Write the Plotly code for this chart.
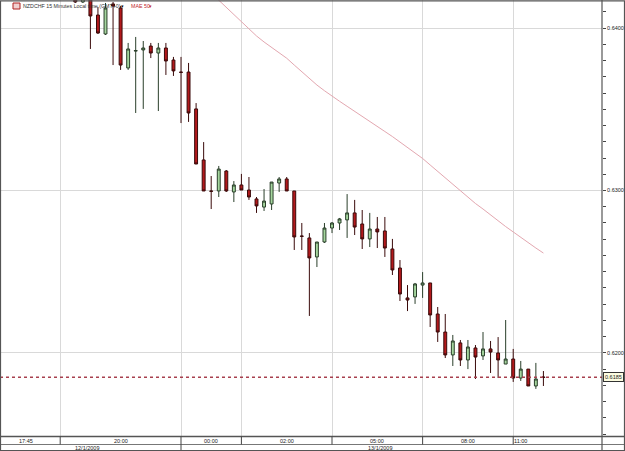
import pandas as pd
import plotly.graph_objects as go

# ---------------- data ----------------
start_time = "2009-01-12 20:30"  # first visible candle, 15-minute bars
opens = [0.64222, 0.64160, 0.64203, 0.64080, 0.63963, 0.64148, 0.64123, 0.63754, 0.63858, 0.63865,
         0.63889, 0.63846, 0.63877, 0.63803, 0.63729, 0.63729, 0.63502, 0.63188, 0.62997, 0.62997,
         0.63120, 0.62991, 0.63034, 0.63003, 0.62948, 0.62898, 0.62917, 0.63046, 0.63071, 0.62997,
         0.62720, 0.62708, 0.62591, 0.62683, 0.62769, 0.62800, 0.62819, 0.62862, 0.62794, 0.62702,
         0.62763, 0.62751, 0.62640, 0.62523, 0.62339, 0.62345, 0.62418, 0.62431, 0.62240, 0.62129,
         0.61988, 0.62062, 0.61957, 0.62031, 0.61982, 0.62025, 0.62000, 0.61932, 0.61963, 0.61846,
         0.61901, 0.61797, 0.61852]
highs = [0.64246, 0.64234, 0.64222, 0.64129, 0.64154, 0.64160, 0.64135, 0.63908, 0.63945, 0.63920,
         0.63908, 0.63908, 0.63908, 0.63822, 0.63822, 0.63785, 0.63538, 0.63298, 0.63089, 0.63151,
         0.63126, 0.63058, 0.63102, 0.63083, 0.62960, 0.63009, 0.63052, 0.63083, 0.63083, 0.62997,
         0.62800, 0.62738, 0.62683, 0.62800, 0.62806, 0.62831, 0.62978, 0.62942, 0.62880, 0.62862,
         0.62837, 0.62837, 0.62702, 0.62572, 0.62418, 0.62431, 0.62498, 0.62431, 0.62283, 0.62240,
         0.62111, 0.62080, 0.62080, 0.62049, 0.62129, 0.62074, 0.62098, 0.62203, 0.62025, 0.61951,
         0.61901, 0.61939, 0.61889]
lows = [0.64154, 0.64154, 0.63871, 0.63963, 0.63957, 0.63772, 0.63742, 0.63742, 0.63477, 0.63502,
        0.63815, 0.63489, 0.63711, 0.63705, 0.63415, 0.63422, 0.63163, 0.62997, 0.62886, 0.62960,
        0.62991, 0.62929, 0.63003, 0.62942, 0.62862, 0.62874, 0.62880, 0.62991, 0.62997, 0.62634,
        0.62634, 0.62228, 0.62529, 0.62677, 0.62738, 0.62757, 0.62708, 0.62726, 0.62640, 0.62652,
        0.62646, 0.62591, 0.62480, 0.62320, 0.62258, 0.62302, 0.62339, 0.62160, 0.62068, 0.61969,
        0.61920, 0.61920, 0.61901, 0.61840, 0.61957, 0.61877, 0.61846, 0.61932, 0.61822, 0.61828,
        0.61797, 0.61779, 0.61797]
closes = [0.64160, 0.64209, 0.64074, 0.63969, 0.64123, 0.64135, 0.63772, 0.63871, 0.63861, 0.63877,
          0.63846, 0.63877, 0.63797, 0.63736, 0.63727, 0.63477, 0.63163, 0.62997, 0.62995, 0.63132,
          0.62997, 0.63034, 0.63003, 0.62960, 0.62905, 0.62935, 0.63052, 0.63071, 0.62997, 0.62714,
          0.62718, 0.62585, 0.62683, 0.62769, 0.62800, 0.62825, 0.62862, 0.62775, 0.62702, 0.62763,
          0.62745, 0.62646, 0.62511, 0.62363, 0.62326, 0.62425, 0.62431, 0.62234, 0.62129, 0.61988,
          0.62074, 0.61957, 0.62037, 0.61975, 0.62025, 0.62006, 0.61957, 0.61963, 0.61846, 0.61901,
          0.61797, 0.61840, 0.61850]

ma_start = "2009-01-13 01:00"
ma50 = [0.64215, 0.64170, 0.64126, 0.64083, 0.64037, 0.63994, 0.63951, 0.63914, 0.63880, 0.63846,
        0.63814, 0.63772, 0.63729, 0.63689, 0.63649, 0.63614, 0.63580, 0.63549, 0.63518, 0.63488,
        0.63458, 0.63428, 0.63397, 0.63363, 0.63332, 0.63298, 0.63265, 0.63231, 0.63197, 0.63157,
        0.63117, 0.63077, 0.63034, 0.62997, 0.62957, 0.62920, 0.62886, 0.62849, 0.62812, 0.62778,
        0.62745, 0.62711, 0.62680, 0.62646, 0.62615]

last_price = 0.6185
price_ticks = [0.62, 0.63, 0.64]
price_labels = ["0.6200", "0.6300", "0.6400"]
grid_times = ["2009-01-12 20:00", "2009-01-13 00:00", "2009-01-13 02:00",
              "2009-01-13 05:00", "2009-01-13 08:00", "2009-01-13 11:00"]
time_labels = ["17:45", "20:00", "00:00", "02:00", "05:00", "08:00", "11:00"]
time_label_pos = ["2009-01-12 18:52:30", "2009-01-12 22:00", "2009-01-13 01:00", "2009-01-13 03:30",
                  "2009-01-13 06:30", "2009-01-13 09:30", "2009-01-13 11:15"]
date_labels = ["12/1/2009", "13/1/2009"]
date_label_pos = ["2009-01-12 20:52:30", "2009-01-13 06:35"]
x_range = ["2009-01-12 18:00:24", "2009-01-13 13:56:24"]
y_range = [0.614861, 0.641723]

# ---------------- figure ----------------
times = pd.date_range(start_time, periods=len(opens), freq="15min")
ma_times = pd.date_range(ma_start, periods=len(ma50), freq="15min")

XD = 602 / 625          # right end of plot area
YB = (451 - 436.5) / 451  # bottom of plot area
YM = (451 - 444.5) / 451  # middle line of time strip
FONT = "Liberation Sans, Arial, sans-serif"

fig = go.Figure()
fig.add_trace(go.Scatter(x=ma_times, y=ma50, mode="lines",
                         line=dict(color="#e3a7b0", width=1), hoverinfo="skip"))
fig.add_trace(go.Candlestick(
    x=times, open=opens, high=highs, low=lows, close=closes,
    increasing=dict(line=dict(color="#2a3f2a", width=1), fillcolor="#a5d69e"),
    decreasing=dict(line=dict(color="#3a0a0a", width=1), fillcolor="#b3191c"),
    whiskerwidth=0))

shapes = []
# last price dotted line
shapes.append(dict(type="line", xref="paper", yref="y", x0=0, x1=XD, y0=last_price, y1=last_price,
                   line=dict(color="#a8404e", width=1.5, dash="dot")))
# bottom time strip
shapes.append(dict(type="line", xref="paper", yref="paper", x0=0, x1=1, y0=YB, y1=YB,
                   line=dict(color="#555555", width=1.5)))
shapes.append(dict(type="line", xref="paper", yref="paper", x0=0, x1=1, y0=YM, y1=YM,
                   line=dict(color="#777777", width=1)))
for t in grid_times:
    y0 = 0 if t == "2009-01-13 00:00" else YM
    shapes.append(dict(type="line", xref="x", yref="paper", x0=t, x1=t, y0=y0, y1=YB,
                       line=dict(color="#444444", width=1)))
shapes.append(dict(type="line", xref="paper", yref="paper", x0=XD, x1=XD, y0=0, y1=1,
                   line=dict(color="#555555", width=1.2)))
# outer frame
shapes.append(dict(type="rect", xref="paper", yref="paper", x0=0.0008, x1=0.9992, y0=0.001, y1=0.998,
                   line=dict(color="#555555", width=1.2)))
# header icon
shapes.append(dict(type="rect", xref="paper", yref="paper", x0=13 / 625, x1=20 / 625,
                   y0=1 - 9 / 451, y1=1 - 3 / 451, line=dict(color="#b02020", width=1),
                   fillcolor="#f0d0d0"))

annotations = []
for txt, pos in zip(time_labels, time_label_pos):
    annotations.append(dict(x=pos, xref="x", y=(451 - 440.5) / 451, yref="paper", text=txt,
                            showarrow=False, font=dict(size=5.5, color="#222222", family=FONT),
                            xanchor="center", yanchor="middle"))
for txt, pos in zip(date_labels, date_label_pos):
    annotations.append(dict(x=pos, xref="x", y=(451 - 447.8) / 451, yref="paper", text=txt,
                            showarrow=False, font=dict(size=5.5, color="#222222", family=FONT),
                            xanchor="center", yanchor="middle"))
annotations.append(dict(x=XD + 1.5 / 625, xref="paper", y=last_price, yref="y", text="0.6185",
                        showarrow=False, xanchor="left", yanchor="middle",
                        font=dict(size=5.5, color="#222222", family=FONT),
                        bgcolor="#fcfce0", bordercolor="#333333", borderwidth=1, borderpad=1))
header_font = dict(size=5.3, color="#333333", family=FONT)
annotations.append(dict(x=21 / 625, xref="paper", y=1 - 6 / 451, yref="paper",
                        text="NZDCHF 15 Minutes Local time (GMT+0)",
                        showarrow=False, xanchor="left", yanchor="middle", font=header_font))
annotations.append(dict(x=122 / 625, xref="paper", y=1 - 6 / 451, yref="paper", text="▾",
                        showarrow=False, xanchor="center", yanchor="middle",
                        font=dict(size=5.3, color="#000000", family=FONT)))
annotations.append(dict(x=129 / 625, xref="paper", y=1 - 6 / 451, yref="paper",
                        text="MAE 50", showarrow=False, xanchor="left", yanchor="middle",
                        font=dict(size=5.3, color="#c0282d", family=FONT)))
annotations.append(dict(x=150 / 625, xref="paper", y=1 - 6 / 451, yref="paper", text="▾",
                        showarrow=False, xanchor="center", yanchor="middle",
                        font=dict(size=5.3, color="#c0282d", family=FONT)))

fig.update_layout(
    width=625, height=451, margin=dict(l=0, r=0, t=0, b=0),
    paper_bgcolor="white", plot_bgcolor="white", showlegend=False,
    boxgap=0.45,
    shapes=shapes, annotations=annotations,
    xaxis=dict(domain=[0, XD], type="date", range=x_range, rangeslider=dict(visible=False),
               tickvals=grid_times, showticklabels=False, showgrid=True, gridcolor="#d9d9d9",
               gridwidth=1, zeroline=False, ticks=""),
    yaxis=dict(domain=[YB, 1], range=y_range, side="right", tickvals=price_ticks,
               ticktext=price_labels, showgrid=True, gridcolor="#d9d9d9", zeroline=False,
               ticks="outside", ticklen=3, tickcolor="#444444",
               tickfont=dict(size=5.5, color="#222222", family=FONT),
               minor=dict(dtick=0.001, ticks="outside", ticklen=3, tickcolor="#444444", showgrid=False)),
)
fig.write_html("out.html")
